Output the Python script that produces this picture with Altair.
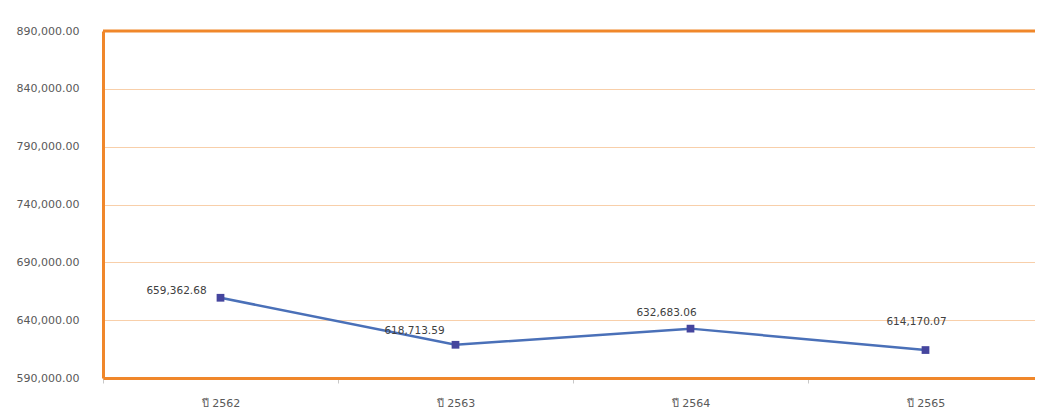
import altair as alt
import pandas as pd

years = ["ปี 2562", "ปี 2563", "ปี 2564", "ปี 2565"]
values = [659362.68, 618713.59, 632683.06, 614170.07]
labels = ["659,362.68", "618,713.59", "632,683.06", "614,170.07"]
y_ticks = [590000, 640000, 690000, 740000, 790000, 840000, 890000]
top_line = [890000]

df = pd.DataFrame({"year": years, "value": values, "label": labels})

ORANGE = "#F0872A"
GRID = "#F8CFAA"
TEXT = "#595959"
FONT = "DejaVu Sans"

x_enc = alt.X(
    "year:N",
    sort=years,
    bandPosition=0.5,
    scale=alt.Scale(type="band", paddingInner=0, paddingOuter=0),
    axis=alt.Axis(
        title=None, labelAngle=0, tickBand="extent",
        domainColor=ORANGE, domainWidth=3,
        tickColor="#C8C8C8", tickSize=5, tickWidth=1,
        labelPadding=14, labelColor=TEXT, labelFontSize=11, labelFont=FONT,
        grid=False,
    ),
)
y_enc = alt.Y(
    "value:Q",
    scale=alt.Scale(domain=[590000, 890000], nice=False, zero=False),
    axis=alt.Axis(
        values=y_ticks, format=",.2f", title=None, ticks=False,
        labelPadding=24, labelColor=TEXT, labelFontSize=11, labelFont=FONT,
        domainColor=ORANGE, domainWidth=3,
        grid=True, gridColor=GRID, gridWidth=1,
    ),
)

base = alt.Chart(df)

line = base.mark_line(color="#4A70B8", strokeWidth=2.5).encode(x=x_enc, y=y_enc)
points = base.mark_point(shape="square", filled=True, size=60, color="#45459E", opacity=1).encode(x=x_enc, y=y_enc)

top_rule = alt.Chart(pd.DataFrame({"value": top_line})).mark_rule(
    color=ORANGE, strokeWidth=3
).encode(y=y_enc)

offsets = [(-44, -7), (-41, -14), (-24, -16), (-9, -28)]
texts = []
for yr, (dx, dy) in zip(years, offsets):
    texts.append(
        base.transform_filter(alt.datum.year == yr)
        .mark_text(dx=dx, dy=dy, fontSize=10.5, font=FONT, color="#404040", align="center", baseline="middle")
        .encode(x=x_enc, y=y_enc, text="label:N")
    )

chart = alt.layer(line, points, top_rule, *texts).properties(
    width=940,
    height=347,
    autosize=alt.AutoSizeParams(type="none"),
    padding={"left": 95, "top": 23, "right": -8, "bottom": 36},
).configure_view(stroke=None).configure(background="white")

chart.save("out.html", embed_options={"renderer": "svg", "actions": False})
